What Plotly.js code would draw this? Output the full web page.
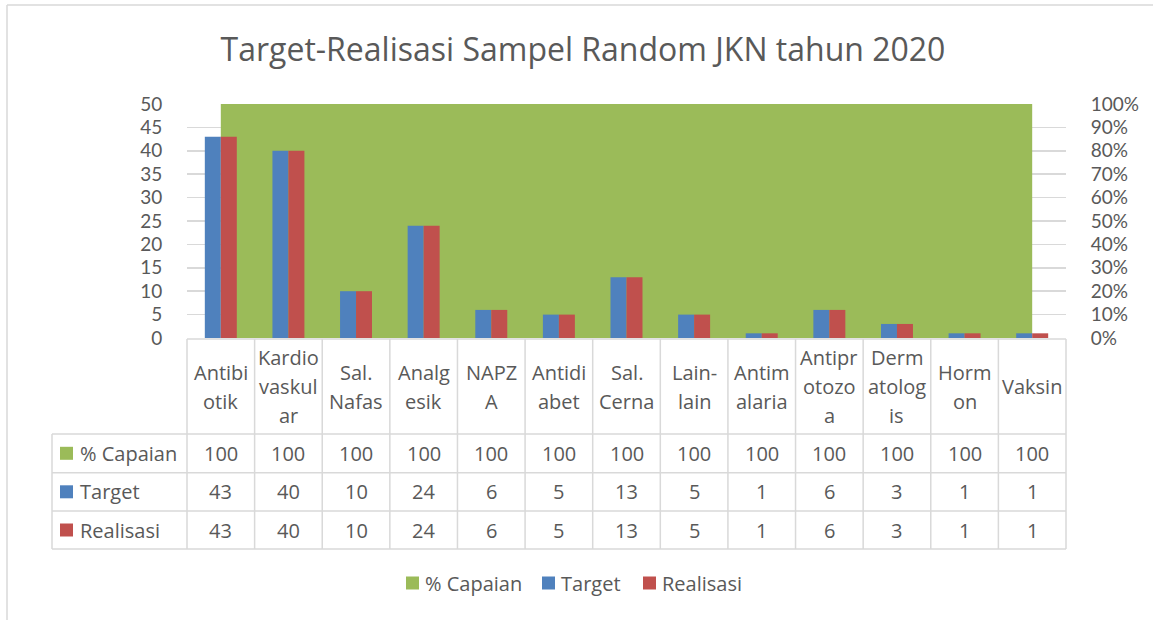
<!DOCTYPE html>
<html>
<head>
<meta charset="utf-8">
<script src="https://cdn.plot.ly/plotly-3.0.1.min.js"></script>
<style>html,body{margin:0;padding:0;background:#fff;}#chart{width:1153px;height:620px;}</style>
</head>
<body>
<div id="chart"></div>
<script>
// ---- data ----
const categories = ['Antibi<br>otik','Kardio<br>vaskul<br>ar','Sal.<br>Nafas','Analg<br>esik','NAPZ<br>A','Antidi<br>abet','Sal.<br>Cerna','Lain-<br>lain','Antim<br>alaria','Antipr<br>otozo<br>a','Derm<br>atolog<br>is','Horm<br>on','Vaksin'];
const capaian = [100,100,100,100,100,100,100,100,100,100,100,100,100];
const target = [43,40,10,24,6,5,13,5,1,6,3,1,1];
const realisasi = [43,40,10,24,6,5,13,5,1,6,3,1,1];
const seriesNames = ['% Capaian','Target','Realisasi'];
const titleText = 'Target-Realisasi Sampel Random JKN tahun 2020';

// ---- style ----
const GREEN = '#9BBB59', BLUE = '#4F81BD', RED = '#C0504D';
const TXT = '#595959', GRID = '#D9D9D9';
const FONT = 'Open Sans, Noto Sans, sans-serif';
const TICKFONT = 'Lato, Open Sans, sans-serif';
const FS = 20;
const W = 1153, H = 620;
const M = {l: 187, r: 87, t: 104, b: 282};
const PW = W - M.l - M.r, PH = H - M.t - M.b;
const plotBottom = H - M.b;
const py = p => (plotBottom - p) / PH;   // pixel y -> paper y
const px = p => (p - M.l) / PW;          // pixel x -> paper x

const n = categories.length;
const idx = categories.map((_, i) => i);

const traces = [
  {type: 'scatter', x: idx, y: capaian, yaxis: 'y', mode: 'lines', fill: 'tozeroy',
   fillcolor: GREEN, line: {width: 0, color: GREEN}, name: seriesNames[0], hoverinfo: 'skip'},
  {type: 'bar', x: idx, y: target, yaxis: 'y2', name: seriesNames[1], marker: {color: BLUE}},
  {type: 'bar', x: idx, y: realisasi, yaxis: 'y2', name: seriesNames[2], marker: {color: RED}}
];

const shapes = [];
const annotations = [];
const lineStyle = {color: GRID, width: 1.5};

// chart border (left & top)
shapes.push({type: 'line', xref: 'paper', yref: 'paper', x0: px(7), x1: px(7), y0: py(5), y1: py(640), line: lineStyle});
shapes.push({type: 'line', xref: 'paper', yref: 'paper', x0: px(7), x1: px(1170), y0: py(5), y1: py(5), line: lineStyle});

// data table grid
const rowTop = 339, rowLines = [434, 472.7, 511, 549], leftCol = 52;
shapes.push({type: 'line', xref: 'paper', yref: 'paper', x0: 0, x1: 1, y0: py(rowTop), y1: py(rowTop), line: lineStyle});
rowLines.forEach(r => shapes.push({type: 'line', xref: 'paper', yref: 'paper', x0: px(leftCol), x1: 1, y0: py(r), y1: py(r), line: lineStyle}));
for (let k = 0; k <= n; k++) {
  shapes.push({type: 'line', xref: 'paper', yref: 'paper', x0: k / n, x1: k / n, y0: py(rowTop), y1: py(549), line: lineStyle});
}
shapes.push({type: 'line', xref: 'paper', yref: 'paper', x0: px(leftCol), x1: px(leftCol), y0: py(434), y1: py(549), line: lineStyle});

// header labels (one annotation per line)
const headerCenter = 386.5, lineGap = 29;
categories.forEach((c, i) => {
  const parts = c.split('<br>');
  parts.forEach((t, j) => {
    const cy = headerCenter + (j - (parts.length - 1) / 2) * lineGap;
    annotations.push({xref: 'x', yref: 'paper', x: i, y: py(cy), text: t, showarrow: false,
      xanchor: 'center', yanchor: 'middle', font: {family: FONT, size: FS, color: TXT}});
  });
});

// value rows
const rowCenters = [453.3, 491.8, 530];
const rowData = [capaian, target, realisasi];
const rowColors = [GREEN, BLUE, RED];
rowData.forEach((arr, r) => {
  arr.forEach((v, i) => {
    annotations.push({xref: 'x', yref: 'paper', x: i, y: py(rowCenters[r]), text: String(v), showarrow: false,
      xanchor: 'center', yanchor: 'middle', font: {family: FONT, size: FS, color: TXT}});
  });
  shapes.push({type: 'rect', xref: 'paper', yref: 'paper', x0: px(60), x1: px(73),
    y0: py(rowCenters[r] - 6.5), y1: py(rowCenters[r] + 6.5), fillcolor: rowColors[r], line: {width: 0}});
  annotations.push({xref: 'paper', yref: 'paper', x: px(78), y: py(rowCenters[r]), text: seriesNames[r], showarrow: false,
    xanchor: 'left', yanchor: 'middle', font: {family: FONT, size: FS, color: TXT}});
});

// bottom legend
const legY = 583;
const legX = [406, 542, 643];
seriesNames.forEach((s, k) => {
  shapes.push({type: 'rect', xref: 'paper', yref: 'paper', x0: px(legX[k]), x1: px(legX[k] + 13),
    y0: py(legY - 6.5), y1: py(legY + 6.5), fillcolor: rowColors[k], line: {width: 0}});
  annotations.push({xref: 'paper', yref: 'paper', x: px(legX[k] + 17), y: py(legY), text: s, showarrow: false,
    xanchor: 'left', yanchor: 'middle', font: {family: FONT, size: FS, color: TXT}});
});

const layout = {
  width: W, height: H,
  margin: M,
  paper_bgcolor: '#fff', plot_bgcolor: '#fff',
  showlegend: false,
  title: {text: titleText, x: 583 / W, xref: 'container', xanchor: 'center', y: 1 - 50 / H, yref: 'container', yanchor: 'middle',
    font: {family: FONT, size: 32, color: TXT}},
  barmode: 'group', bargap: 0.527, bargroupgap: 0,
  xaxis: {type: 'linear', range: [-0.5, n - 0.5], showticklabels: false, showgrid: false, zeroline: false, ticks: '', fixedrange: true},
  yaxis: {side: 'right', range: [0, 100], dtick: 10, ticksuffix: '%', showgrid: true, gridcolor: GRID, gridwidth: 1.5,
    zeroline: false, ticks: 'outside', ticklen: 20, tickcolor: 'rgba(0,0,0,0)',
    tickfont: {family: TICKFONT, size: 19, color: TXT}},
  yaxis2: {overlaying: 'y', side: 'left', range: [0, 50], dtick: 5, showgrid: false, zeroline: false,
    ticks: 'outside', ticklen: 20, tickcolor: 'rgba(0,0,0,0)',
    tickfont: {family: TICKFONT, size: 19, color: TXT}},
  shapes: shapes,
  annotations: annotations,
  font: {family: FONT, color: TXT}
};

Plotly.newPlot('chart', traces, layout, {displayModeBar: false, staticPlot: true});
</script>
</body>
</html>
